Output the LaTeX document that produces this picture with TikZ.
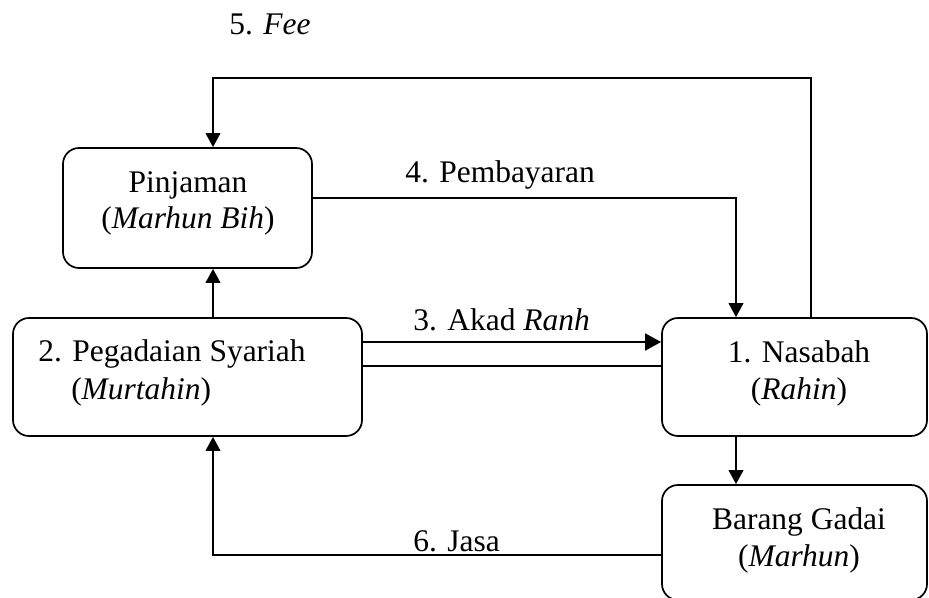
\documentclass[tikz,border=0pt]{standalone}
\usepackage{fontspec}
\setmainfont{Liberation Serif}
\usetikzlibrary{arrows.meta}

\begin{document}
\begin{tikzpicture}[x=0.75pt,y=0.75pt,yscale=-1,xscale=1,
  kotak/.style={draw,line width=1.3pt,rounded corners=12pt,inner sep=0pt},
  garis/.style={line width=1.3pt},
  panah/.style={garis,-{Triangle[length=10.5pt,width=11pt]}},
  panahtebal/.style={line width=2.2pt,-{Triangle[length=12pt,width=12.5pt]}},
  teks/.style={inner sep=0pt,font=\fontsize{23.6}{28}\selectfont}]
\useasboundingbox (0,0) rectangle (929,598);

\node[kotak,minimum width=249*0.75pt,minimum height=120*0.75pt] (pinjaman) at (187.5,208) {};
\node[kotak,minimum width=349*0.75pt,minimum height=118*0.75pt] (pegadaian) at (187.5,377) {};
\node[kotak,minimum width=265*0.75pt,minimum height=118*0.75pt] (nasabah) at (794.5,377) {};
\node[kotak,minimum width=265*0.75pt,minimum height=115*0.75pt] (barang) at (794.5,542.5) {};

\node[teks,anchor=base] (tpinjaman) at (188,193) {Pinjaman};
\node[teks,anchor=base] (tmarhunbih) at (188,229) {(\textit{Marhun Bih})};
\node[teks,anchor=base west] (tpegadaian) at (38,362) {2. Pegadaian Syariah};
\node[teks,anchor=base west] (tmurtahin) at (71,400) {(\textit{Murtahin})};
\node[teks,anchor=base] (tnasabah) at (799,363) {1. Nasabah};
\node[teks,anchor=base] (trahin) at (799,400) {(\textit{Rahin})};
\node[teks,anchor=base] (tbarang) at (799,530) {Barang Gadai};
\node[teks,anchor=base] (tmarhun) at (799,567) {(\textit{Marhun})};

\node[teks,anchor=base west] (fee) at (229,35) {5. \textit{Fee}};
\node[teks,anchor=base west] (bayar) at (405,183) {4. Pembayaran};
\node[teks,anchor=base west] (akad) at (413,331) {3. Akad \textit{Ranh}};
\node[teks,anchor=base west] (jasa) at (413,552) {6. Jasa};

\coordinate (kiri) at (213,78);
\coordinate (kanan) at (811,78);
\coordinate (belok) at (736,198);
\coordinate (jalur1) at (500,342);
\coordinate (jalur2) at (500,366);
\coordinate (bawah) at (213,555);

\draw[panah] (nasabah.north -| kanan) -- (kanan) -- (kiri) -- (pinjaman.north -| kiri);
\draw[panah] (pinjaman.east |- belok) -- (belok) -- (nasabah.north -| belok);
\draw[panah] (pegadaian.north -| kiri) -- (pinjaman.south -| kiri);
\draw[panahtebal] (pegadaian.east |- jalur1) -- (nasabah.west |- jalur1);
\draw[garis] (pegadaian.east |- jalur2) -- (nasabah.west |- jalur2);
\draw[panah] (nasabah.south -| belok) -- (barang.north -| belok);
\draw[panah] (barang.west |- bawah) -- (bawah) -- (pegadaian.south -| kiri);

\end{tikzpicture}
\end{document}
